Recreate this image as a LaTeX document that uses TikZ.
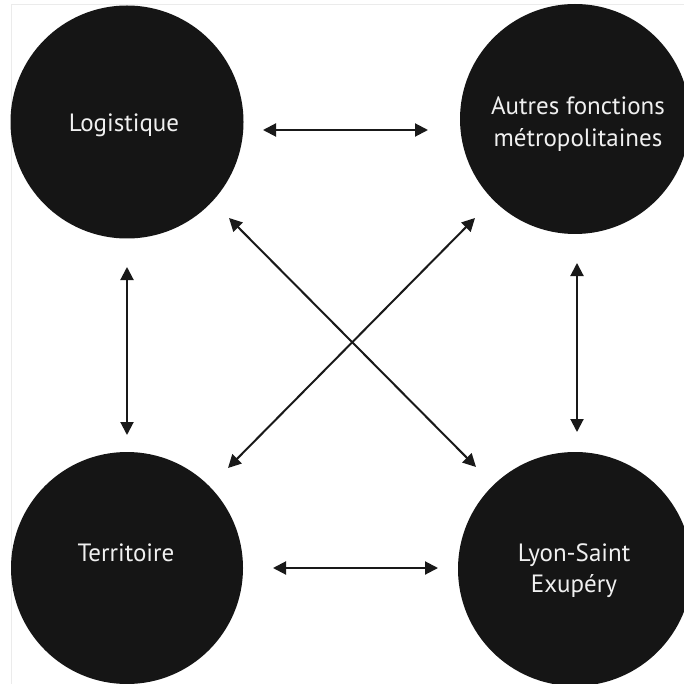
\documentclass[tikz,border=0pt]{standalone}
\usepackage{fontspec}
\setmainfont{PT Sans}
\usetikzlibrary{arrows.meta}
\definecolor{disc}{HTML}{151515}
\definecolor{txt}{HTML}{F0F0F0}
\tikzset{
  blob/.style={circle, fill=disc, draw=none, inner sep=0pt},
  lbl/.style={inner sep=0pt, text=txt, anchor=base, font=\fontsize{25}{32}\selectfont},
  link/.style={line width=2pt, draw=black!90, {Triangle[length=13pt,width=13pt]}-{Triangle[length=13pt,width=13pt]}}
}
\begin{document}
\begin{tikzpicture}[x=1pt,y=-1pt]
\useasboundingbox (0,0) rectangle (684,684);
\fill[white] (0,0) rectangle (684,684);
\draw[black!8, line width=1pt] (11,684) -- (11,5) -- (684,5);
\begin{scope}
\clip (0,0) rectangle (684,684);
\node[blob, minimum size=233pt] (tl) at (127,122) {};
\node[blob, minimum size=230pt] (tr) at (575,119) {};
\node[blob, minimum size=232pt] (bl) at (127,568) {};
\node[blob, minimum size=234pt] (br) at (575,569) {};
\end{scope}
\node[lbl] (tlt) at (124,132) {Logistique};
\node[lbl] (trt1) at (578,115) {Autres fonctions};
\node[lbl] (trt2) at (578,147) {métropolitaines};
\node[lbl] (blt) at (126,561) {Territoire};
\node[lbl] (brt1) at (574,561) {Lyon-Saint};
\node[lbl] (brt2) at (574,592) {Exupéry};
\coordinate (a1) at (263,130); \coordinate (a2) at (428,130);
\coordinate (b1) at (273,568); \coordinate (b2) at (438,568);
\coordinate (c1) at (127,267); \coordinate (c2) at (127,435);
\coordinate (d1) at (577,263); \coordinate (d2) at (577,432);
\coordinate (e1) at (229,218); \coordinate (e2) at (476,467);
\coordinate (f1) at (475,218); \coordinate (f2) at (228,468);
\draw[link] (a1) -- (a2);
\draw[link] (b1) -- (b2);
\draw[link] (c1) -- (c2);
\draw[link] (d1) -- (d2);
\draw[link] (e1) -- (e2);
\draw[link] (f1) -- (f2);
\end{tikzpicture}
\end{document}
